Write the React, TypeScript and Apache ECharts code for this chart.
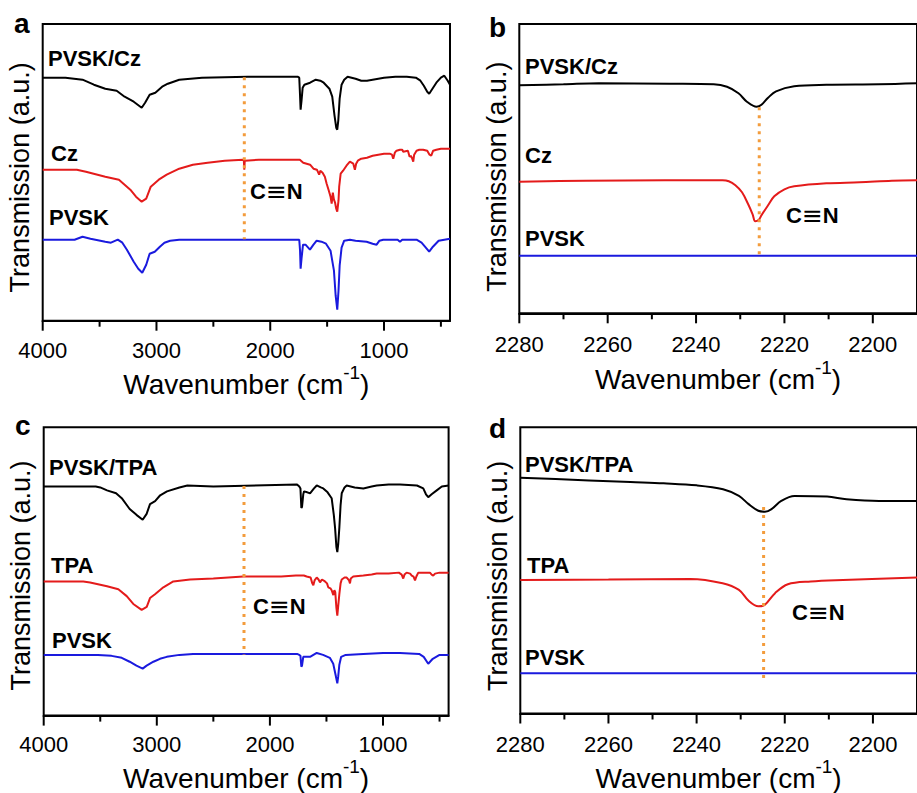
import React, { useEffect, useRef } from 'react';
import * as echarts from 'echarts';

const FONT = '"Liberation Sans", Arial, Helvetica, sans-serif';

// x tick values
const wideMajorTicks = [4000, 3000, 2000, 1000];
const wideMinorTicks = [3500, 2500, 1500, 500];
const narrowMajorTicks = [2280, 2260, 2240, 2220, 2200];
const narrowMinorTicks = [2270, 2250, 2230, 2210];

// ---------- panel a : [wavenumber, transmission a.u.] ----------
const aPvskCz: number[][] = [
  [4000, 243], [3800, 243], [3650, 241], [3550, 236], [3450, 232], [3350, 230], [3280, 224], [3200, 219],
  [3130, 213], [3100, 218], [3060, 226], [3010, 228], [2950, 234], [2900, 237], [2800, 241], [2600, 243],
  [2200, 244], [1760, 244], [1745, 243], [1738, 225], [1733, 211], [1725, 220], [1715, 233], [1700, 236],
  [1650, 238], [1600, 241], [1560, 240], [1530, 238], [1480, 232], [1455, 224], [1435, 205], [1420, 193],
  [1411, 191], [1402, 200], [1390, 222], [1373, 236], [1350, 241], [1320, 244], [1250, 242], [1200, 240],
  [1150, 240], [1100, 241], [1000, 243], [900, 244], [800, 244], [720, 243], [680, 240], [650, 235],
  [620, 229], [603, 227], [580, 231], [540, 238], [500, 243], [470, 245], [440, 240], [420, 236],
];
const aCz: number[][] = [
  [4000, 151], [3700, 151], [3620, 149], [3450, 144], [3330, 141], [3230, 131], [3180, 124], [3130, 119],
  [3090, 122], [3050, 134], [2980, 141], [2910, 146], [2800, 152], [2680, 156], [2550, 158], [2400, 160],
  [2240, 161], [2232, 160], [2228, 151], [2224, 160], [2100, 161], [1900, 161], [1740, 161], [1710, 158],
  [1650, 156], [1620, 152], [1590, 151], [1570, 146], [1560, 150], [1540, 148], [1520, 144], [1504, 137],
  [1485, 130], [1470, 124], [1460, 117], [1450, 128], [1440, 121], [1430, 118], [1420, 112], [1411, 109],
  [1400, 120], [1394, 134], [1381, 147], [1360, 150], [1330, 155], [1300, 159], [1270, 157], [1256, 151],
  [1245, 157], [1230, 160], [1200, 162], [1150, 163], [1100, 165], [1050, 166], [1000, 167], [950, 167],
  [930, 166], [919, 162], [905, 168], [890, 170], [860, 171], [840, 171], [831, 169], [790, 170],
  [775, 164], [765, 165], [755, 163], [743, 159], [735, 166], [714, 170], [690, 171], [656, 171],
  [620, 170], [600, 166], [585, 165], [568, 170], [540, 171], [500, 172], [420, 172],
];
const aPvsk: number[][] = [
  [4000, 81], [3720, 81], [3650, 84], [3580, 82], [3450, 79], [3400, 78], [3340, 81], [3300, 78],
  [3260, 71], [3200, 59], [3160, 52], [3125, 48], [3090, 56], [3060, 67], [3015, 69], [2970, 74],
  [2930, 78], [2880, 80], [2800, 81], [2200, 81], [1760, 81], [1745, 81], [1738, 70], [1733, 52],
  [1725, 62], [1712, 76], [1690, 76], [1651, 71], [1620, 76], [1592, 80], [1550, 79], [1510, 77],
  [1470, 70], [1440, 50], [1425, 25], [1411, 11], [1400, 30], [1390, 55], [1373, 73], [1350, 80],
  [1300, 81], [1250, 80], [1153, 79], [1100, 77], [1065, 76], [1040, 80], [1007, 81], [950, 81],
  [880, 81], [860, 79], [840, 81], [714, 81], [670, 78], [640, 74], [603, 69], [570, 74], [520, 80],
  [470, 81], [420, 82],
];
const aMarker: number[][] = [[2228, 243.4], [2228, 81.4]];

// ---------- panel b ----------
const bPvskCz: number[][] = [
  [2280, 228], [2270, 229], [2262, 230], [2246, 229.5], [2236, 229], [2233, 226.5], [2230.4, 220],
  [2228.5, 211.6], [2226.3, 206.5], [2225.2, 208.5], [2223.7, 215.6], [2221.9, 222], [2217.8, 227],
  [2210.5, 228.5], [2198.6, 229], [2190, 230],
];
const bCz: number[][] = [
  [2280, 131.6], [2265, 132.5], [2247, 133], [2234, 133], [2232.6, 132], [2231.1, 128], [2229.6, 121],
  [2228.2, 109], [2227.2, 99], [2226.6, 92], [2225.8, 93.5], [2225.2, 98], [2223.7, 108], [2222.3, 117],
  [2220, 124], [2217.8, 127], [2210.5, 130], [2203, 131], [2195.7, 132.5], [2190, 133],
];
const bPvsk: number[][] = [[2280, 57.6], [2240, 57.6], [2200, 57.6], [2190, 57.6]];
const bMarker: number[][] = [[2225.7, 206], [2225.7, 57.6]];

// ---------- panel c ----------
const cPvskTpa: number[][] = [
  [4000, 234], [3540, 234], [3500, 233], [3440, 230], [3360, 227], [3310, 222], [3240, 211], [3180, 205],
  [3125, 200], [3090, 206], [3060, 216], [3015, 219], [2970, 225], [2910, 229], [2800, 233], [2730, 235],
  [2500, 234], [1760, 236], [1740, 234], [1730, 232], [1722, 212], [1716, 213], [1705, 226], [1698, 229],
  [1670, 228], [1645, 227], [1610, 232], [1586, 235], [1550, 233], [1528, 232], [1490, 228], [1454, 222],
  [1435, 205], [1424, 192], [1412, 172], [1404, 167], [1396, 175], [1386, 192], [1375, 215], [1365, 227],
  [1340, 233], [1321, 235], [1250, 233], [1174, 232], [1100, 234], [1056, 235], [950, 236], [850, 236],
  [700, 235], [644, 232], [620, 226], [600, 223], [570, 226], [525, 230], [480, 234], [420, 235],
];
const cTpa: number[][] = [
  [4000, 137], [3650, 137], [3590, 136], [3440, 132], [3340, 129], [3266, 122], [3208, 114], [3134, 108],
  [3089, 111], [3060, 120], [3016, 124], [2942, 131], [2854, 137], [2706, 139], [2500, 140], [2235, 142],
  [1900, 142], [1770, 143], [1700, 143], [1675, 142], [1640, 141], [1625, 135], [1616, 133], [1605, 138],
  [1586, 141], [1570, 139], [1557, 136], [1540, 139], [1513, 137], [1495, 135], [1484, 131], [1465, 130],
  [1454, 128], [1439, 123], [1430, 128], [1422, 126], [1412, 110], [1404, 102], [1396, 112], [1386, 124],
  [1375, 135], [1365, 139], [1340, 141], [1321, 141], [1300, 138], [1292, 135], [1285, 140], [1263, 142],
  [1174, 143], [1100, 144], [1056, 145], [950, 145], [860, 146], [835, 144], [821, 140], [810, 144],
  [791, 146], [760, 145], [746, 143], [730, 142], [717, 138], [705, 142], [688, 146], [620, 146],
  [585, 146], [570, 144], [556, 143], [540, 145], [500, 146], [420, 146],
];
const cPvsk: number[][] = [
  [4000, 62], [3520, 62], [3400, 61], [3310, 59], [3240, 55], [3180, 51], [3125, 48], [3090, 51],
  [3030, 55], [2972, 58], [2912, 60], [2800, 62], [2680, 63], [1760, 63], [1740, 62], [1730, 61],
  [1722, 50], [1716, 51], [1705, 60], [1680, 60], [1645, 60], [1586, 64], [1530, 62], [1470, 59],
  [1440, 53], [1420, 42], [1404, 33], [1396, 40], [1386, 52], [1370, 60], [1330, 62], [1174, 63],
  [1000, 64], [850, 64], [680, 63], [640, 60], [600, 53], [560, 58], [500, 62], [420, 62],
];
const cMarker: number[][] = [[2229, 234.4], [2229, 62.4]];

// ---------- panel d ----------
const dPvskTpa: number[][] = [
  [2280, 238.4], [2272, 237], [2264.4, 235.7], [2255, 234], [2247.5, 232.7], [2240, 230.7], [2234, 226.7],
  [2230.4, 220], [2228.2, 211.7], [2226, 205], [2224.5, 204], [2223, 206.7], [2220.8, 215], [2217.8, 220],
  [2210.4, 219.4], [2206, 216.7], [2198.6, 215], [2190, 215],
];
const dTpa: number[][] = [
  [2280, 135], [2260, 135.5], [2241.4, 136], [2234.1, 131.7], [2230.4, 125], [2228.2, 114], [2226, 108.4],
  [2224.5, 110], [2222.2, 121.7], [2219.3, 130.7], [2214.1, 133.5], [2206.8, 135], [2190, 137.5],
];
const dPvsk: number[][] = [[2280, 40.7], [2240, 40.7], [2200, 40.7], [2190, 40.7]];
const dMarker: number[][] = [[2224.8, 208.7], [2224.8, 33.7]];

const BLACK = '#000000';
const RED = '#e41b1b';
const BLUE = '#1a1ade';
const ORANGE = '#f39c3c';

const grids = [
  { left: 42.7, top: 24, width: 407.3, height: 296.7 },
  { left: 519.3, top: 24, width: 406.4, height: 289.3 },
  { left: 43.7, top: 427.3, width: 404.9, height: 294.4 },
  { left: 520.3, top: 427.3, width: 405, height: 289.4 },
];
const xRanges = [
  [420, 4000],
  [2190, 2280],
  [420, 4000],
  [2190, 2280],
];
const nameGaps = [40, 45, 39, 43];
const labelMargins = [19, 20, 18, 20];
const yNameShift = [10, 16, 8, 11];

const labels = [
  { text: 'a', x: 14, y: 23, size: 28 },
  { text: 'PVSK/Cz', x: 48, y: 58, size: 22 },
  { text: 'Cz', x: 51, y: 153.5, size: 22 },
  { text: 'PVSK', x: 49, y: 217, size: 22 },
  { text: 'C≡N', x: 250, y: 191, size: 22 },
  { text: 'b', x: 489, y: 27, size: 28 },
  { text: 'PVSK/Cz', x: 525, y: 66.5, size: 22 },
  { text: 'Cz', x: 525, y: 155, size: 22 },
  { text: 'PVSK', x: 525, y: 238.5, size: 22 },
  { text: 'C≡N', x: 786, y: 215.5, size: 22 },
  { text: 'c', x: 15, y: 425, size: 28 },
  { text: 'PVSK/TPA', x: 49, y: 467, size: 22 },
  { text: 'TPA', x: 51, y: 565.5, size: 22 },
  { text: 'PVSK', x: 52, y: 640.5, size: 22 },
  { text: 'C≡N', x: 253, y: 606, size: 22 },
  { text: 'd', x: 489, y: 428, size: 28 },
  { text: 'PVSK/TPA', x: 525, y: 464, size: 22 },
  { text: 'TPA', x: 527, y: 565.5, size: 22 },
  { text: 'PVSK', x: 525, y: 657.5, size: 22 },
  { text: 'C≡N', x: 792, y: 612.5, size: 22 },
];

function buildOption() {
  const wide = (i: number) => i === 0 || i === 2;
  const xAxes = grids.map((_, i) => ({
    type: 'value',
    gridIndex: i,
    min: xRanges[i][0],
    max: xRanges[i][1],
    inverse: true,
    position: 'bottom',
    name: '{a|Wavenumber (cm}{b|-1}{a|)}',
    nameLocation: 'middle',
    nameGap: nameGaps[i],
    nameTextStyle: {
      color: '#000',
      rich: {
        a: { fontSize: 28, fontFamily: FONT, color: '#000' },
        b: { fontSize: 19, fontFamily: FONT, color: '#000', padding: [0, 0, 24, 0] },
      },
    },
    splitLine: { show: false },
    axisLine: { show: true, lineStyle: { color: '#000', width: 2 } },
    axisTick: { show: false },
    axisLabel: {
      show: true,
      margin: labelMargins[i],
      fontSize: 22,
      fontFamily: FONT,
      color: '#000',
      customValues: wide(i) ? wideMajorTicks : narrowMajorTicks,
      formatter: (v: number) => String(v),
    },
  }));
  const yAxes = grids.map((g, i) => ({
    type: 'value',
    gridIndex: i,
    min: 0,
    max: g.height,
    name: 'Transmission (a.u.)',
    nameLocation: 'middle',
    nameGap: 9,
    nameTextStyle: {
      fontSize: 27,
      fontFamily: FONT,
      color: '#000',
      padding: [0, yNameShift[i], 0, 0],
    },
    splitLine: { show: false },
    axisLine: { show: false },
    axisTick: { show: false },
    axisLabel: { show: false },
  }));

  const line = (data: number[][], color: string, gi: number, smooth: boolean) => ({
    type: 'line',
    data,
    xAxisIndex: gi,
    yAxisIndex: gi,
    symbol: 'none',
    silent: true,
    smooth: smooth ? 0.35 : false,
    lineStyle: { color, width: 2 },
  });
  const marker = (data: number[][], gi: number) => ({
    type: 'line',
    data,
    xAxisIndex: gi,
    yAxisIndex: gi,
    symbol: 'none',
    silent: true,
    z: 3,
    lineStyle: { color: ORANGE, width: 3, type: [3, 5] },
  });
  // tick marks placed through the axis scale (api.coord)
  const ticks = (values: number[], gi: number, len: number) => ({
    type: 'custom',
    xAxisIndex: gi,
    yAxisIndex: gi,
    data: values.map((v) => [v, 0]),
    clip: false,
    silent: true,
    z: 10,
    renderItem: (_params: any, api: any) => {
      const p = api.coord([api.value(0), api.value(1)]);
      return {
        type: 'line',
        shape: { x1: p[0], y1: p[1], x2: p[0], y2: p[1] + len },
        style: { stroke: '#000', lineWidth: 2 },
      };
    },
  });

  const series: any[] = [
    line(aPvskCz, BLACK, 0, false),
    line(aCz, RED, 0, false),
    line(aPvsk, BLUE, 0, false),
    marker(aMarker, 0),
    line(bPvskCz, BLACK, 1, true),
    line(bCz, RED, 1, true),
    line(bPvsk, BLUE, 1, false),
    marker(bMarker, 1),
    line(cPvskTpa, BLACK, 2, false),
    line(cTpa, RED, 2, false),
    line(cPvsk, BLUE, 2, false),
    marker(cMarker, 2),
    line(dPvskTpa, BLACK, 3, true),
    line(dTpa, RED, 3, true),
    line(dPvsk, BLUE, 3, false),
    marker(dMarker, 3),
  ];
  grids.forEach((_, i) => {
    series.push(ticks(wide(i) ? wideMajorTicks : narrowMajorTicks, i, 10));
    series.push(ticks(wide(i) ? wideMinorTicks : narrowMinorTicks, i, 6));
  });

  return {
    animation: false,
    backgroundColor: '#ffffff',
    grid: grids.map((g) => ({
      ...g,
      show: true,
      borderColor: '#000',
      borderWidth: 2,
      backgroundColor: 'transparent',
      containLabel: false,
    })),
    xAxis: xAxes,
    yAxis: yAxes,
    series,
    graphic: labels.map((l) => ({
      type: 'text',
      x: l.x,
      y: l.y,
      silent: true,
      style: {
        text: l.text === 'C≡N' ? '{c|C}{e|≡}{c|N}' : l.text,
        fontSize: l.size,
        fontWeight: 'bold',
        fontFamily: FONT,
        fill: '#000',
        align: 'left',
        verticalAlign: 'middle',
        rich: {
          c: { fontSize: l.size, fontWeight: 'bold', fontFamily: FONT, fill: '#000' },
          e: { fontSize: 25, fontWeight: 'normal', fontFamily: '"DejaVu Sans", sans-serif', fill: '#000' },
        },
      },
    })),
  };
}

export default function App() {
  const ref = useRef<HTMLDivElement>(null);
  useEffect(() => {
    if (!ref.current) return;
    const chart = echarts.init(ref.current, undefined, { renderer: 'svg' });
    chart.setOption(buildOption() as any);
    return () => chart.dispose();
  }, []);
  return (
    <div
      ref={ref}
      style={{ position: 'fixed', left: 0, top: 0, width: 917, height: 793, background: '#fff' }}
    />
  );
}
